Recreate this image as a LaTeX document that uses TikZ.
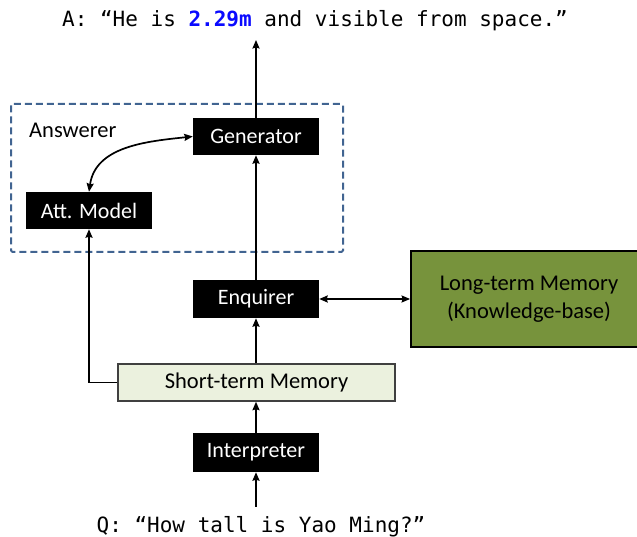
\documentclass[tikz,border=0pt]{standalone}
\usepackage{fontspec}
\setmainfont{Carlito}
\newfontfamily\monofont{DejaVu Sans Mono}
\usetikzlibrary{arrows.meta}
\definecolor{dashblue}{RGB}{65,100,145}
\definecolor{ltmgreen}{RGB}{119,147,60}
\definecolor{stmfill}{RGB}{235,241,222}
\definecolor{hiblue}{RGB}{10,10,255}
\begin{document}
\begin{tikzpicture}[x=1pt,y=1pt,
  blackbox/.style={fill=black,text=white,inner sep=0pt,minimum width=126pt,font=\fontsize{22}{26}\selectfont},
  arr/.style={-{Stealth[length=8.5pt,width=7pt,inset=1pt]},line width=1.7pt},
  darr/.style={{Stealth[length=8.5pt,width=7pt,inset=1pt]}-{Stealth[length=8.5pt,width=7pt,inset=1pt]},line width=1.7pt},
  monotext/.style={inner sep=0pt,font=\monofont\fontsize{21}{26}\selectfont}]
\useasboundingbox (0,0) rectangle (637,537);
% dashed Answerer frame
\draw[dashblue,line width=2pt,dash pattern=on 7pt off 4pt,rounded corners=1.5pt] (11,433) rectangle (343,285);
\node[anchor=base west,inner sep=0pt,font=\fontsize{22.5}{26}\selectfont] (answ) at (29,399) {Answerer};
% nodes
\node[blackbox,minimum height=37pt] (gen) at (256,400.5) {Generator};
\node[blackbox,minimum height=37pt] (att) at (89,326.5) {Att. Model};
\node[blackbox,minimum height=38pt] (enq) at (256,238) {Enquirer};
\node[blackbox,minimum height=39pt] (intp) at (256,84.5) {Interpreter};
\node[draw=black,line width=1.8pt,fill=ltmgreen,minimum width=236pt,minimum height=96pt,align=center,inner sep=0pt,font=\fontsize{22.5}{28}\selectfont] (ltm) at (529,238) {Long-term Memory\\(Knowledge-base)};
\node[draw={rgb,255:red,64;green,64;blue,64},line width=1.5pt,fill=stmfill,minimum width=277pt,minimum height=37pt,inner sep=0pt,font=\fontsize{22.5}{26}\selectfont] (stm) at (256.5,154.5) {Short-term Memory};
% texts
\node[monotext,anchor=base] (ans) at (315,510) {A: “He is \textcolor{hiblue}{\bfseries 2.29m} and visible from space.”};
\node[monotext,anchor=base] (q) at (261,4.3) {Q: “How tall is Yao Ming?”};
\coordinate (topend) at (256,497);
\coordinate (botstart) at (256,30);
% connectors
\draw[arr] (gen.north) -- (topend);
\draw[darr] (gen.west) to[out=186,in=82] (att.north);
\draw[arr] (enq.north) -- (gen.south);
\draw[darr] (enq.east) -- (ltm.west);
\draw[arr] (stm.north -| enq.south) -- (enq.south);
\draw[arr] (stm.west) -| (att.south);
\draw[arr] (intp.north) -- (intp.north |- stm.south);
\draw[arr] (botstart) -- (intp.south);
\end{tikzpicture}
\end{document}
